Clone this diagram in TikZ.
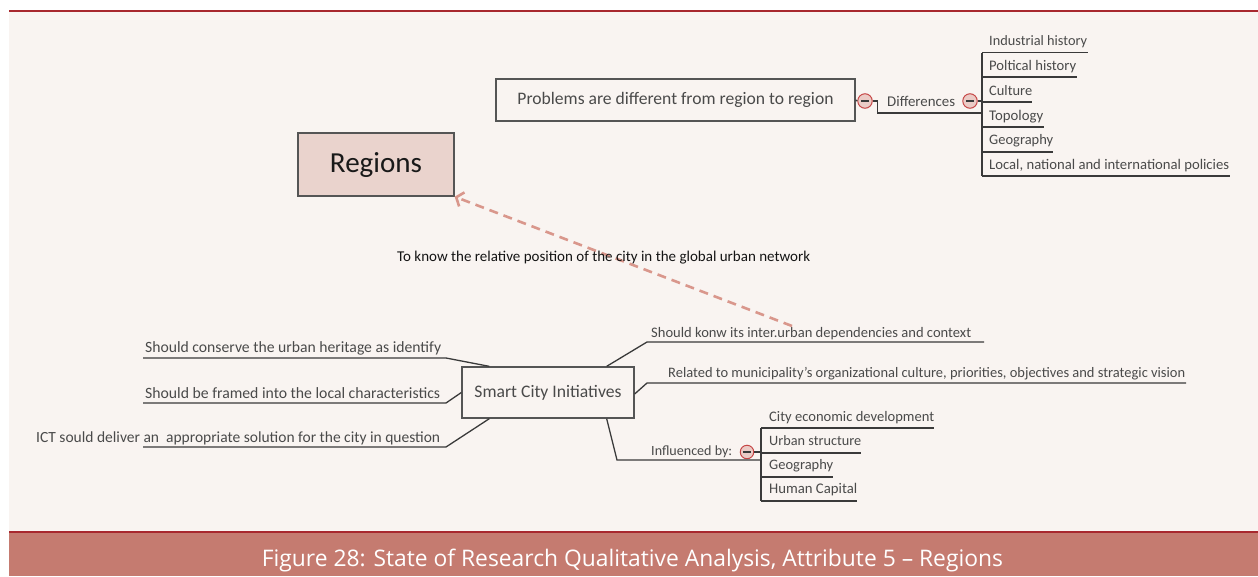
\documentclass[tikz,border=0pt]{standalone}
\usepackage{fontspec}
\setmainfont{Carlito}
\newfontfamily\capfont{Open Sans}
\usetikzlibrary{arrows.meta}
\definecolor{bgc}{HTML}{F9F4F1}
\definecolor{capc}{HTML}{C57B70}
\definecolor{topred}{HTML}{A8282E}
\definecolor{regf}{HTML}{EAD3CD}
\definecolor{txtc}{HTML}{4A4A4A}
\definecolor{linec}{HTML}{3A3A3A}
\definecolor{boxc}{HTML}{555555}
\definecolor{minusf}{HTML}{EBCBC6}
\definecolor{minusb}{HTML}{C64646}
\definecolor{dashc}{HTML}{D9978C}
\newcommand{\fitw}[2]{\resizebox{#1pt}{!}{#2}}
\begin{document}
\begin{tikzpicture}[x=1pt,y=-1pt,
  tx/.style={anchor=base west, inner sep=0, text=txtc},
  ln/.style={draw=linec, line width=1.3},
  boxn/.style={draw=boxc, line width=1.3, inner sep=0},
  minus/.style={circle, draw=minusb, fill=minusf, line width=1, minimum size=#1, inner sep=0,
    path picture={\draw[linec, line width=1.4] ([xshift=-3.6pt]path picture bounding box.center) -- ([xshift=3.6pt]path picture bounding box.center);}},
  minus/.default=14.5,
  dasharrow/.style={draw=dashc, line width=2.6, dash pattern=on 9pt off 6pt, -{Straight Barb[length=6pt,width=15pt]}}
]
\useasboundingbox (0,0) rectangle (1258,576);
\fill[white] (0,0) rectangle (1258,576);
\fill[bgc] (9,11) rectangle (1258,532);
\fill[capc] (9,532) rectangle (1258,576);
\draw[topred, line width=1.2] (9,11) -- (1258,11);
\draw[topred, line width=1.4] (9,532) -- (1258,532);

% Regions
\node[boxn, fill=regf, minimum width=156, minimum height=63, text=black!90] (reg) at (376,164.5) {\fitw{92}{Regions}};

% Problems branch
\node[boxn, fill=bgc, minimum width=359, minimum height=42, text=txtc] (prob) at (675.5,100) {\fitw{316}{Problems are different from region to region}};
\node[minus] (m1) at (865,101) {};
\node[tx] (diff) at (887,106) {\fitw{68}{Differences}};
\node[minus] (m2) at (970,101) {};
\coordinate (diffu) at (982,113);
\draw[ln] (prob.east) -- (m1.west);
\draw[ln] (m1.east) -- ++(5,0) |- (diffu);

\foreach \n/\t/\b/\u/\w/\e in {
  1/{Industrial history}/45.7/52.7/98/1088,
  2/{Poltical history}/70/77/87/1077,
  3/{Culture}/95/102/43/1032,
  4/{Topology}/120/127/54/1044,
  5/{Geography}/144/152/64/1053,
  6/{Local, national and international policies}/169.3/176/240/1230}{
  \node[tx] (d\n) at (989,\b) {\fitw{\w}{\t}};
  \coordinate (du\n) at (982,\u);
  \coordinate (de\n) at (\e,\u);
  \draw[ln] (du\n) -- (de\n);
}
\draw[ln] (du1) -- (du6);
\draw[ln] (m2.east) -- (m2.east -| du1);

% Smart City Initiatives
\node[boxn, fill=bgc, minimum width=172, minimum height=51, text=txtc] (sc) at (548,392.5) {\fitw{147}{Smart City Initiatives}};

% left branches
\node[tx] (l1) at (145,352.7) {\fitw{296}{Should conserve the urban heritage as identify}};
\node[tx] (l2) at (145,398.3) {\fitw{295}{Should be framed into the local characteristics}};
\node[tx] (l3) at (36,442.7) {\fitw{404}{ICT sould deliver an\ \ appropriate solution for the city in question}};
\coordinate (l1a) at (143,358); \coordinate (l1b) at (446,358);
\coordinate (l2a) at (143,403); \coordinate (l2b) at (446,403);
\coordinate (l3a) at (143,447); \coordinate (l3b) at (446,447);
\draw[ln] (l1a) -- (l1b) -- ([xshift=28pt]sc.north west);
\draw[ln] (l2a) -- (l2b) -- (sc.west);
\draw[ln] (l3a) -- (l3b) -- ([xshift=28pt]sc.south west);

% right branches
\node[tx] (r1) at (651,337.3) {\fitw{320}{Should konw its inter.urban dependencies and context}};
\node[tx] (r2) at (668,377.7) {\fitw{517}{Related to municipality’s organizational culture, priorities, objectives and strategic vision}};
\node[tx] (r3) at (651,455.7) {\fitw{81}{Influenced by:}};
\node[minus=13.5] (m3) at (747,452) {};
\coordinate (r1a) at (647,342); \coordinate (r1b) at (984,342);
\coordinate (r2a) at (647,383); \coordinate (r2b) at (1186,383);
\coordinate (r3a) at (617,460); \coordinate (r3b) at (761,460);
\draw[ln] ([xshift=-28pt]sc.north east) -- (r1a) -- (r1b);
\draw[ln] ([yshift=-1.5pt]sc.east) -- (r2a) -- (r2b);
\draw[ln] ([xshift=-28pt]sc.south east) -- (r3a) -- (r3b);

\foreach \n/\t/\b/\u/\w/\e in {
  1/{City economic development}/421.7/428/165/934,
  2/{Urban structure}/445/453/92/861,
  3/{Geography}/469.3/477/64/833,
  4/{Human Capital}/493.3/501/88/857}{
  \node[tx] (i\n) at (769,\b) {\fitw{\w}{\t}};
  \coordinate (iu\n) at (761,\u);
  \coordinate (ie\n) at (\e,\u);
  \draw[ln] (iu\n) -- (ie\n);
}
\draw[ln] (iu1) -- (iu4);
\draw[ln] (m3.east) -- (m3.east -| iu1);

% relation
\coordinate (as) at (792,326);
\draw[dasharrow] (as) -- (reg.south east);
\node[tx, text=black!92] (lbl) at (397,261.7) {\fitw{413}{To know the relative position of the city in the global urban network}};

% caption
\node[anchor=base west, inner sep=0, text=white, font=\capfont] (cap) at (261.7,566.7) {\fitw{741}{Figure 28: State of Research Qualitative Analysis, Attribute 5 – Regions}};
\end{tikzpicture}
\end{document}
